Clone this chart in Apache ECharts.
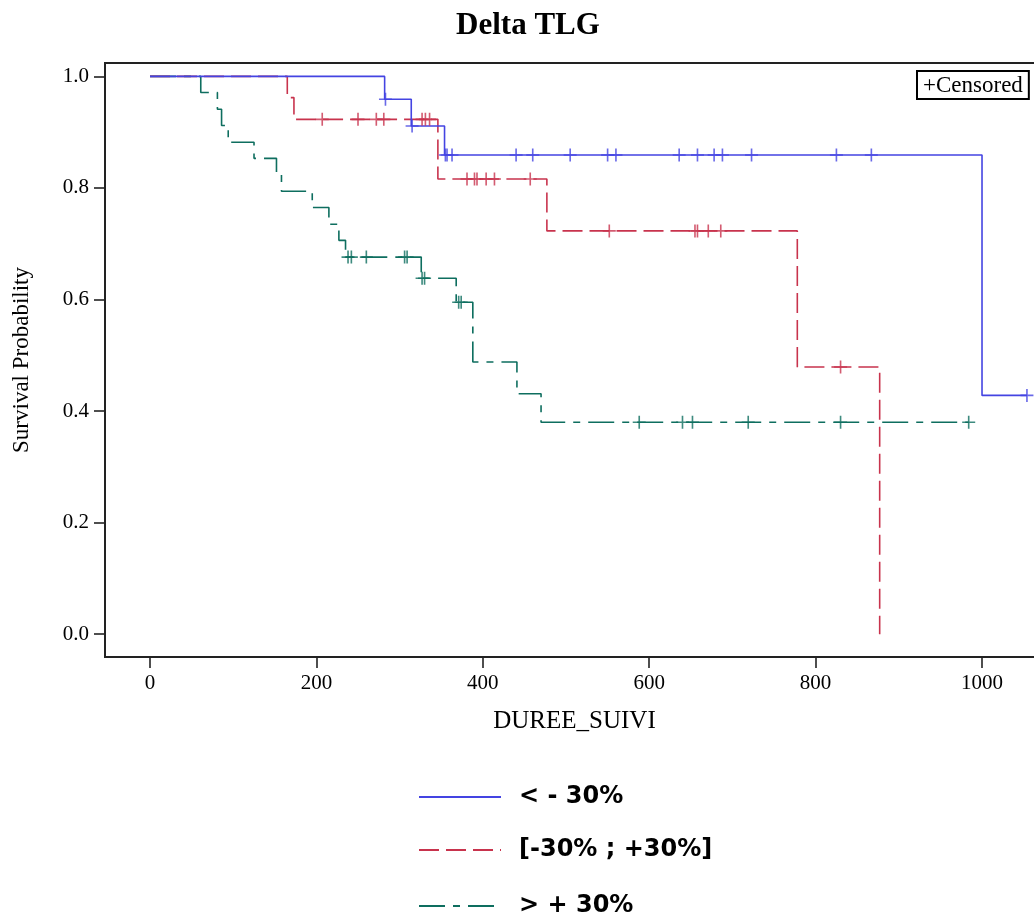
<!DOCTYPE html>
<html>
<head>
<meta charset="utf-8">
<script src="https://cdn.jsdelivr.net/npm/echarts@6/dist/echarts.min.js"></script>
<style>
html,body{margin:0;padding:0;background:#fff;}
#c{width:1034px;height:917px;}
</style>
</head>
<body>
<div id="c"></div>
<script>
// ---- data ----
const groupNames = ['< - 30%', '[-30% ; +30%]', '> + 30%'];

const blueTimes = [0, 282, 314, 354, 1000];
const blueSurv = [1.0, 0.959, 0.911, 0.859, 0.428];
const blueEnd = 1054;
const blueCensor = [283, 315, 355, 357, 363, 440, 460, 505, 550, 560, 636, 658, 678, 688, 723, 825, 867, 1054];

const redTimes = [0, 165, 173, 346, 477, 778, 877];
const redSurv = [1.0, 0.962, 0.923, 0.816, 0.723, 0.479, 0.0];
const redEnd = 877;
const redCensor = [207, 250, 272, 281, 327, 331, 336, 381, 390, 393, 404, 414, 457, 552, 655, 658, 671, 686, 830];

const greenTimes = [0, 61, 81, 86, 94, 125, 152, 158, 195, 215, 227, 235, 326, 368, 388, 441, 470];
const greenSurv = [1.0, 0.971, 0.941, 0.912, 0.882, 0.853, 0.824, 0.794, 0.765, 0.735, 0.706, 0.676, 0.638, 0.595, 0.488, 0.431, 0.380];
const greenEnd = 984;
const greenCensor = [238, 242, 260, 306, 309, 327, 330, 371, 374, 588, 640, 652, 719, 830, 984];

const xTicks = [0, 200, 400, 600, 800, 1000];
const yTicks = [0, 0.2, 0.4, 0.6, 0.8, 1.0];

// ---- helpers ----
function stepPoints(times, surv, end) {
  const pts = times.map((t, i) => [t, surv[i]]);
  if (end > times[times.length - 1]) pts.push([end, surv[surv.length - 1]]);
  return pts;
}
function survAt(times, surv, t) {
  let v = surv[0];
  for (let i = 0; i < times.length; i++) if (times[i] <= t) v = surv[i];
  return v;
}
function censorPoints(cens, times, surv) {
  return cens.map(t => [t, survAt(times, surv, t)]);
}

const colors = ['#4444e2', '#c8334d', '#0e6e5f'];
const dashes = ['solid', [20, 7], [26, 8, 7, 8]];
const plusPath = 'path://M-0.75,-6L0.75,-6L0.75,-0.75L6,-0.75L6,0.75L0.75,0.75L0.75,6L-0.75,6L-0.75,0.75L-6,0.75L-6,-0.75L-0.75,-0.75Z';

const groups = [
  [blueTimes, blueSurv, blueEnd, blueCensor],
  [redTimes, redSurv, redEnd, redCensor],
  [greenTimes, greenSurv, greenEnd, greenCensor]
];

const series = [];
groups.forEach((g, i) => {
  series.push({
    name: groupNames[i],
    type: 'line',
    step: 'end',
    symbol: 'none',
    showSymbol: false,
    data: stepPoints(g[0], g[1], g[2]),
    lineStyle: { color: colors[i], width: 1.6, type: dashes[i] },
    itemStyle: { color: colors[i] },
    z: 3 - i + 2,
    animation: false
  });
});
groups.forEach((g, i) => {
  series.push({
    name: 'censor' + i,
    type: 'scatter',
    symbol: plusPath,
    symbolSize: 13,
    data: censorPoints(g[3], g[0], g[1]),
    itemStyle: { color: colors[i] },
    z: 6,
    animation: false
  });
});

const serif = '"Liberation Serif", "Times New Roman", serif';
const legendFont = { fontFamily: '"DejaVu Sans", sans-serif', fontWeight: 'bold', fontSize: 24, color: '#000', padding: [0, 0, 0, 13] };
const legendTops = [780, 833, 889];

const chart = echarts.init(document.getElementById('c'), null, { renderer: 'canvas' });
chart.setOption({
  backgroundColor: '#fff',
  animation: false,
  title: {
    text: 'Delta TLG',
    left: 523, top: 5,
    textAlign: 'center',
    textStyle: { fontFamily: serif, fontWeight: 'bold', fontSize: 31, color: '#000' }
  },
  grid: {
    left: 105, top: 63, width: 939, height: 594,
    show: true, borderColor: '#222', borderWidth: 2,
    containLabel: false, outerBoundsMode: 'none'
  },
  xAxis: {
    type: 'value',
    min: -54.1, max: 1074.5,
    name: 'DUREE_SUIVI',
    nameLocation: 'middle',
    nameGap: 52,
    nameTextStyle: { fontFamily: serif, fontSize: 25, color: '#000' },
    axisLine: { show: true, onZero: false, lineStyle: { color: '#222', width: 2 } },
    axisTick: { show: true, length: 11, customValues: xTicks, lineStyle: { color: '#222', width: 1.6 } },
    axisLabel: { customValues: xTicks, margin: 16, fontFamily: serif, fontSize: 21, color: '#000',
      formatter: v => String(v) },
    splitLine: { show: false }
  },
  yAxis: {
    type: 'value',
    min: -0.041, max: 1.024,
    name: 'Survival Probability',
    nameLocation: 'middle',
    nameGap: 72,
    nameTextStyle: { fontFamily: serif, fontSize: 23, color: '#000' },
    axisLine: { show: true, onZero: false, lineStyle: { color: '#222', width: 2 } },
    axisTick: { show: true, length: 11, customValues: yTicks, lineStyle: { color: '#222', width: 1.6 } },
    axisLabel: { customValues: yTicks, margin: 16, fontFamily: serif, fontSize: 21, color: '#000',
      formatter: v => v.toFixed(1) },
    splitLine: { show: false }
  },
  legend: groupNames.map((n, i) => ({
    data: [n],
    left: 413, top: legendTops[i],
    orient: 'horizontal',
    itemWidth: 82, itemHeight: 14,
    selectedMode: false,
    itemStyle: { opacity: 0 },
    textStyle: legendFont
  })),
  graphic: [{
    type: 'text',
    left: 916, top: 70,
    style: {
      text: '+Censored',
      font: '23px "Liberation Serif", serif',
      fill: '#000',
      backgroundColor: '#fff',
      borderColor: '#000', borderWidth: 2,
      padding: [2, 5, 1, 5]
    },
    z: 100
  }],
  series: series
});
</script>
</body>
</html>
